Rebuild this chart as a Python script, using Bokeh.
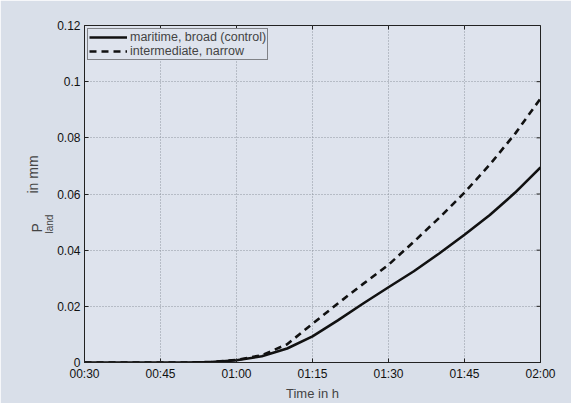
import math
from bokeh.plotting import figure
from bokeh.models import FixedTicker, Range1d, Title, Legend, LegendItem
from bokeh.embed import file_html
from bokeh.resources import INLINE

# ---- data ----
minutes = [30, 35, 40, 45, 50, 55, 60, 65, 70, 75, 80, 85, 90, 95, 100, 105, 110, 115, 120]
control = [0.0, 0.0, 0.0, 0.0, 0.0, 0.0002, 0.0008, 0.0022, 0.005, 0.0093, 0.015, 0.021,
           0.0268, 0.0325, 0.0388, 0.0455, 0.0525, 0.0605, 0.0695]
narrow = [0.0, 0.0, 0.0, 0.0, 0.0, 0.0002, 0.0009, 0.0026, 0.0065, 0.0138, 0.021, 0.028,
          0.0348, 0.043, 0.0515, 0.0605, 0.0705, 0.0815, 0.094]
series_names = ["maritime, broad (control)", "intermediate, narrow"]
x_ticks = [30, 45, 60, 75, 90, 105, 120]
x_tick_labels = ["00:30", "00:45", "01:00", "01:15", "01:30", "01:45", "02:00"]
y_ticks = [0.0, 0.02, 0.04, 0.06, 0.08, 0.1, 0.12]
y_tick_labels = ["0", "0.02", "0.04", "0.06", "0.08", "0.1", "0.12"]
y_label_parts = ["P", "land", "in mm"]

FONT = "Liberation Sans"
BG_OUT = "#d9dfe9"
BG_IN = "#dee3ed"
X_MIN, X_MAX = x_ticks[0], x_ticks[-1]
Y_MIN, Y_MAX = y_ticks[0], y_ticks[-1]

p = figure(width=571, height=403, output_backend="svg", toolbar_location=None,
           x_range=Range1d(X_MIN, X_MAX), y_range=Range1d(Y_MIN, Y_MAX),
           min_border_left=84, min_border_right=31, min_border_top=25, min_border_bottom=36)
p.border_fill_color = BG_OUT
p.background_fill_color = BG_IN
p.outline_line_color = "#222222"
p.outline_line_width = 1

for ax in (p.xaxis[0], p.yaxis[0]):
    ax.major_tick_in = 4
    ax.major_tick_out = 0
    ax.minor_tick_in = 0
    ax.minor_tick_out = 0
    ax.axis_line_color = "#222222"
    ax.major_tick_line_color = "#222222"
    ax.major_label_text_font = FONT
    ax.major_label_text_font_size = "12px"
    ax.major_label_text_color = "#111111"

p.xaxis.ticker = FixedTicker(ticks=x_ticks)
p.xaxis.major_label_overrides = {t: l for t, l in zip(x_ticks, x_tick_labels)}
p.xaxis.major_label_standoff = 4
p.xaxis.axis_label = "Time in h"
p.xaxis.axis_label_text_font = FONT
p.xaxis.axis_label_text_font_size = "13px"
p.xaxis.axis_label_text_font_style = "normal"
p.xaxis.axis_label_standoff = 2

p.yaxis.ticker = FixedTicker(ticks=y_ticks)
p.yaxis.major_label_overrides = {t: l for t, l in zip(y_ticks, y_tick_labels)}
p.yaxis.major_label_standoff = 4

p.xgrid.ticker = FixedTicker(ticks=x_ticks)
p.ygrid.ticker = FixedTicker(ticks=y_ticks)
p.grid.grid_line_color = "#8f949e"
p.grid.grid_line_dash = "1 2"
p.grid.grid_line_width = 1

# mirrored tick marks on the top and right edges (MATLAB box); the outer half is clipped
p.scatter(x_ticks, [Y_MAX] * len(x_ticks), marker="dash", angle=math.pi / 2, size=8,
          line_color="#222222", line_width=1)
p.scatter([X_MAX] * len(y_ticks), y_ticks, marker="dash", size=8,
          line_color="#222222", line_width=1)

r1 = p.line(minutes, control, line_color="#111111", line_width=2.6)
r2 = p.line(minutes, narrow, line_color="#111111", line_width=2.6, line_dash="7 5")

legend = Legend(items=[LegendItem(label=series_names[0], renderers=[r1]),
                       LegendItem(label=series_names[1], renderers=[r2])],
                location="top_left")
legend.label_text_font = FONT
legend.label_text_font_size = "12.5px"
legend.label_height = 14
legend.glyph_height = 14
legend.glyph_width = 38
legend.label_standoff = 3
legend.spacing = 0
legend.padding = 1
legend.margin = 3
legend.border_line_color = "#222222"
legend.background_fill_color = BG_IN
legend.background_fill_alpha = 1
p.add_layout(legend)

# y-axis label with subscript, built from side-panel titles
t_land = Title(text=y_label_parts[1], align="left", offset=129, standoff=-1,
               text_font=FONT, text_font_size="10px", text_font_style="normal")
t_p = Title(text=y_label_parts[0], align="left", offset=130, standoff=-4,
            text_font=FONT, text_font_size="14px", text_font_style="normal")
t_mm = Title(text=y_label_parts[2], align="left", offset=169, standoff=-25,
             text_font=FONT, text_font_size="14px", text_font_style="normal")
p.add_layout(t_land, "left")
p.add_layout(t_p, "left")
p.add_layout(t_mm, "left")

open("out.html", "w").write(file_html(p, INLINE))
